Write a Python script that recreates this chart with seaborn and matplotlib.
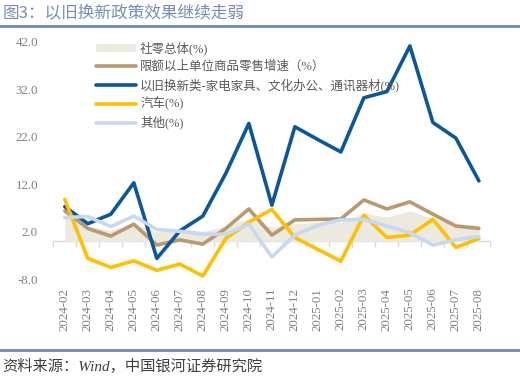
import numpy as np
import pandas as pd
import matplotlib as mpl
import matplotlib.pyplot as plt
from matplotlib.lines import Line2D
from matplotlib.patches import Patch
import seaborn as sns

# Data
months = ["2024-02", "2024-03", "2024-04", "2024-05", "2024-06", "2024-07",
          "2024-08", "2024-09", "2024-10", "2024-11", "2024-12", "2025-01",
          "2025-02", "2025-03", "2025-04", "2025-05", "2025-06", "2025-07",
          "2025-08"]
retail_total = [5.5, 3.1, 2.3, 3.7, 2.0, 2.7, 2.1, 3.2, 4.8, 3.0, 3.7, 4.0,
                4.0, 5.9, 5.1, 6.4, 4.8, 3.7, 3.4]
above_quota = [6.4, 2.7, 1.1, 3.6, -0.8, 0.3, -0.6, 2.7, 6.8, 1.3, 4.5, 4.6,
               4.7, 8.7, 6.8, 8.3, 5.7, 3.2, 2.7]
trade_in = [7.3, 3.7, 5.7, 12.3, -3.6, 2.2, 5.3, 14.3, 24.8, 7.6, 24.1, 21.4,
            18.8, 30.2, 31.5, 41.1, 25.0, 21.7, 12.7]
autos = [8.8, -3.6, -5.5, -4.1, -6.1, -4.8, -7.3, 0.6, 4.0, 6.7, 0.8, -1.7,
         -4.2, 5.5, 0.8, 1.3, 4.6, -1.3, 0.6]
others = [5.0, 5.2, 3.1, 5.3, 2.5, 2.1, 1.5, 1.5, 3.6, -3.3, 1.3, 3.4,
          4.5, 4.6, 3.2, 1.8, -0.8, 0.3, 1.0]

names = ["社零总体(%)", "限额以上单位商品零售增速（%）",
         "以旧换新类-家电家具、文化办公、通讯器材(%)", "汽车(%)", "其他(%)"]
colors = ["#ece9df", "#b9996d", "#0b579a", "#ffc000", "#c6d9f0"]

sns.set_theme(style="white")
plt.rcParams["font.family"] = ["Liberation Serif", "Noto Sans CJK SC"]
plt.rcParams["axes.unicode_minus"] = False

fig = plt.figure(figsize=(5.2, 3.78), dpi=100)
ax = fig.add_axes([0.1025, 0.2611, 0.8406, 0.6286])

x = np.arange(len(months))
ax.fill_between(x, 0, retail_total, color=colors[0], lw=0, label=names[0])

series = [above_quota, trade_in, autos, others]
for vals, name, col in zip(series, names[1:], colors[1:]):
    df = pd.DataFrame({"x": x, "y": vals})
    sns.lineplot(data=df, x="x", y="y", ax=ax, color=col, lw=2.6,
                 label=name, sort=False)

ax.set_xlim(-0.5, len(months) - 0.5)
ax.set_ylim(-8, 42)
ax.set_yticks([-8, 2, 12, 22, 32, 42])
ax.set_yticklabels([f"{v:.1f}" for v in [-8, 2, 12, 22, 32, 42]])
ax.set_xticks(x)
ax.set_xticklabels(months, rotation=90)
ax.tick_params(axis="both", length=0, colors="#7f7f7f", labelsize=9.3)
ax.tick_params(axis="y", pad=11)
ax.tick_params(axis="x", pad=6)
ax.set_xlabel("")
ax.set_ylabel("")
for s in ax.spines.values():
    s.set_visible(False)

# zero axis line with category boundary ticks
sec = ax.secondary_xaxis(8 / 50)
sec.set_xticks(np.arange(-0.5, len(months), 1.0))
sec.set_xticklabels([])
sec.tick_params(length=4, width=1, color="#d9d9d9", direction="out")
sec.spines["bottom"].set_color("#d9d9d9")
sec.spines["bottom"].set_linewidth(1)

handles, labels = ax.get_legend_handles_labels()
order = [labels.index(n) for n in names]
handles = [handles[i] for i in order]
handles[0] = Patch(facecolor=colors[0], edgecolor="none")
leg = ax.legend(handles, names, loc="upper left", bbox_to_anchor=(0.087, 1.022),
                frameon=False, fontsize=9, handlelength=3.2, handleheight=0.6,
                handletextpad=0.3, labelspacing=0.42, borderaxespad=0)
for t in leg.get_texts():
    t.set_color("#595959")

# title, rules and source
fig.text(0.005, 0.966, "图3：以旧换新政策效果继续走弱", fontsize=12,
         color="#7b8cb5", va="center", ha="left",
         family=["Noto Sans CJK SC"])
fig.add_artist(Line2D([0, 1], [0.9325, 0.9325], color="#7088b8", lw=2))
fig.add_artist(Line2D([0, 1], [0.074, 0.074], color="#7088b8", lw=2))
fig.text(0.005, 0.031, "资料来源：Wind，中国银河证券研究院", fontsize=11,
         color="#404040", va="center", ha="left", style="italic")

fig.savefig("out.png", dpi=100)
